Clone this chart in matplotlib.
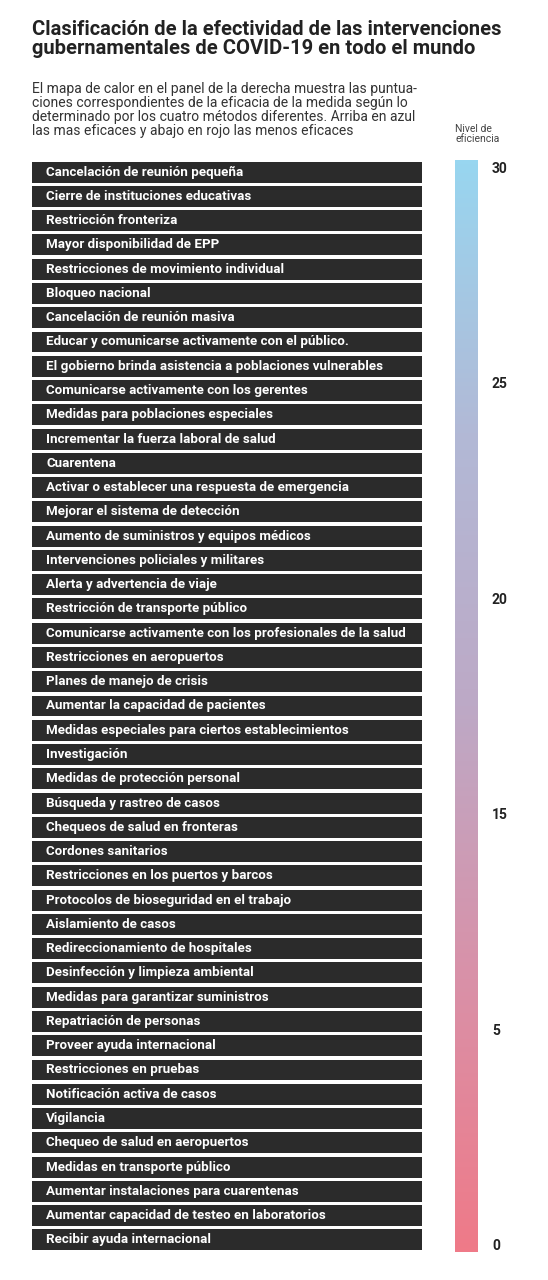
import numpy as np
import matplotlib
matplotlib.use('Agg')
import matplotlib.pyplot as plt
from matplotlib.colors import LinearSegmentedColormap

W, H = 548, 1280
NARROW = ['Roboto', 'DejaVu Sans']

categories = [
    "Cancelación de reunión pequeña", "Cierre de instituciones educativas", "Restricción fronteriza",
    "Mayor disponibilidad de EPP", "Restricciones de movimiento individual", "Bloqueo nacional",
    "Cancelación de reunión masiva", "Educar y comunicarse activamente con el público.",
    "El gobierno brinda asistencia a poblaciones vulnerables", "Comunicarse activamente con los gerentes",
    "Medidas para poblaciones especiales", "Incrementar la fuerza laboral de salud", "Cuarentena",
    "Activar o establecer una respuesta de emergencia", "Mejorar el sistema de detección",
    "Aumento de suministros y equipos médicos", "Intervenciones policiales y militares",
    "Alerta y advertencia de viaje", "Restricción de transporte público",
    "Comunicarse activamente con los profesionales de la salud", "Restricciones en aeropuertos",
    "Planes de manejo de crisis", "Aumentar la capacidad de pacientes",
    "Medidas especiales para ciertos establecimientos", "Investigación", "Medidas de protección personal",
    "Búsqueda y rastreo de casos", "Chequeos de salud en fronteras", "Cordones sanitarios",
    "Restricciones en los puertos y barcos", "Protocolos de bioseguridad en el trabajo",
    "Aislamiento de casos", "Redireccionamiento de hospitales", "Desinfección y limpieza ambiental",
    "Medidas para garantizar suministros", "Repatriación de personas", "Proveer ayuda internacional",
    "Restricciones en pruebas", "Notificación activa de casos", "Vigilancia",
    "Chequeo de salud en aeropuertos", "Medidas en transporte público",
    "Aumentar instalaciones para cuarentenas", "Aumentar capacidad de testeo en laboratorios",
    "Recibir ayuda internacional",
]
cbar_ticklabels = ["30", "25", "20", "15", "5", "0"]
cbar_min, cbar_max = 0, 30

fig = plt.figure(figsize=(W / 100, H / 100), dpi=100)
fig.patch.set_facecolor('white')

fig.text(32 / W, 1 - 20 / H, "Clasificación de la efectividad de las intervenciones\ngubernamentales de COVID-19 en todo el mundo",
         fontsize=14.5, fontweight='bold', va='top', ha='left', color='#222222', linespacing=1.0, family=NARROW)
fig.text(32 / W, 1 - 82 / H,
         "El mapa de calor en el panel de la derecha muestra las puntua-\n"
         "ciones correspondientes de la eficacia de la medida según lo\n"
         "determinado por los cuatro métodos diferentes. Arriba en azul\n"
         "las mas eficaces y abajo en rojo las menos eficaces",
         fontsize=10, va='top', ha='left', color='#333333', linespacing=1.0, family=NARROW)
fig.text(455 / W, 1 - 124 / H, "Nivel de\neficiencia", fontsize=7.5, va='top', ha='left',
         color='#444444', linespacing=1.0, family=NARROW)

top, bottom = 160, 1252
ax = fig.add_axes([32 / W, 1 - bottom / H, 390 / W, (bottom - top) / H])
y = np.arange(len(categories))
ax.barh(y, [1] * len(categories), height=0.86, color='#2b2b2b')
for i, c in enumerate(categories):
    ax.text(0.037, i, c, color='white', fontsize=9.6, fontweight='bold', va='center', ha='left', family=NARROW)
ax.set_xlim(0, 1)
ax.set_ylim(len(categories) - 0.5, -0.5)
ax.axis('off')

cmap = LinearSegmentedColormap.from_list('ef', ['#ef7a88', '#d991a8', '#bda9c6', '#b2b9d6', '#98d6f0'])
cax = fig.add_axes([455 / W, 1 - bottom / H, 23 / W, (bottom - top) / H])
grad = np.linspace(cbar_min, cbar_max, 256).reshape(-1, 1)
cax.imshow(grad, aspect='auto', cmap=cmap, origin='lower', extent=[0, 1, cbar_min, cbar_max])
cax.set_xticks([])
cax.yaxis.tick_right()
cax.set_yticks(np.linspace(cbar_max - 0.2, cbar_min + 0.2, len(cbar_ticklabels)))
cax.set_yticklabels(cbar_ticklabels, fontsize=10, fontweight='bold', color='#222222', family=NARROW)
cax.tick_params(axis='y', length=0, pad=10)
for s in cax.spines.values():
    s.set_visible(False)

fig.savefig('out.png', dpi=100, facecolor='white')
